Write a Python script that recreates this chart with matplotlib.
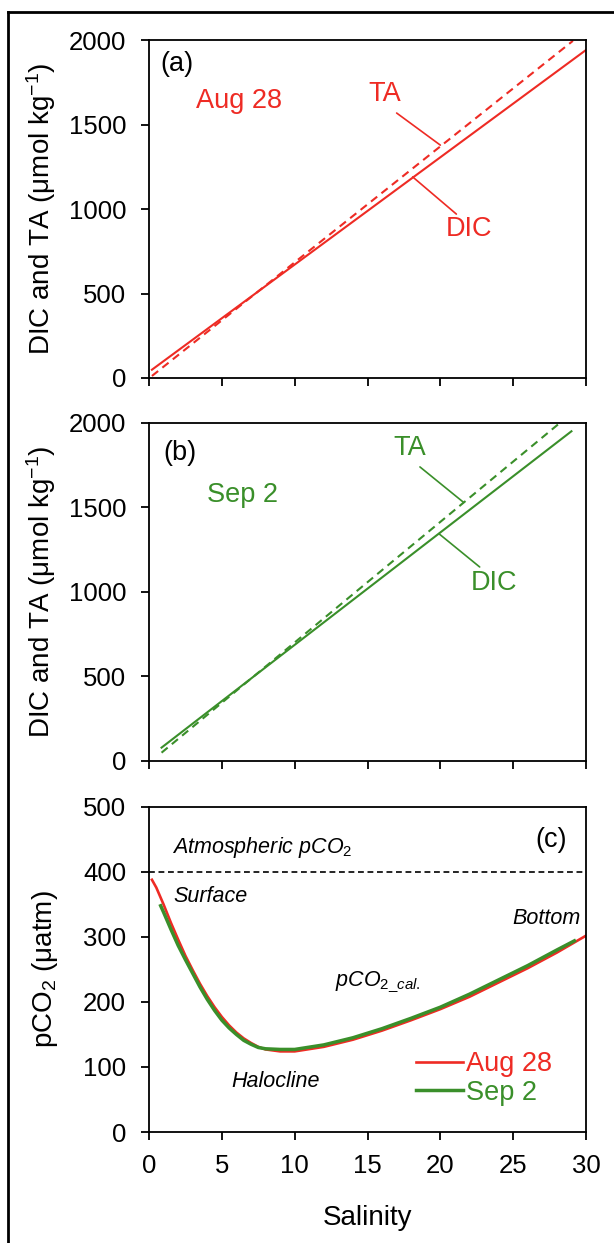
import matplotlib
matplotlib.use('Agg')
import matplotlib.pyplot as plt
from matplotlib.lines import Line2D

plt.rcParams['font.family'] = ['Liberation Sans', 'DejaVu Sans']
plt.rcParams['mathtext.fontset'] = 'custom'
plt.rcParams['mathtext.rm'] = 'Liberation Sans'
plt.rcParams['mathtext.it'] = 'Liberation Sans:italic'
plt.rcParams['mathtext.bf'] = 'Liberation Sans:bold'

RED = '#ee2b24'
GREEN = '#3a8f2a'

# (a) Aug 28 end-member mixing lines
sal_dic_a = [0.2, 30.0]
dic_a = [49, 1941]
sal_ta_a = [0.2, 29.1]
ta_a = [12, 1995]

# (b) Sep 2 end-member mixing lines
sal_dic_b = [0.86, 29.0]
dic_b = [79, 1951]
sal_ta_b = [0.86, 28.2]
ta_b = [49, 2000]

# (c) calculated pCO2 along salinity
sal_aug = [0.2, 0.5, 1.0, 1.5, 2.0, 2.5, 3.0, 3.5, 4.0, 4.5, 5.0, 5.5, 6.0, 6.5,
           7.0, 7.5, 8.0, 9.0, 10, 12, 14, 16, 18, 20, 22, 24, 26, 28, 30]
pco2_aug = [388, 376, 350, 322, 296, 271, 249, 228, 209, 192, 177, 164, 153, 144,
            137, 131, 127, 124, 124, 131, 142, 156, 172, 189, 208, 230, 252, 276, 302]
sal_sep = [0.8, 1.0, 1.5, 2.0, 2.5, 3.0, 3.5, 4.0, 4.5, 5.0, 5.5, 6.0, 6.5,
           7.0, 7.5, 8.0, 9.0, 10, 12, 14, 16, 18, 20, 22, 24, 26, 28, 29.2]
pco2_sep = [348, 338, 312, 287, 265, 244, 223, 204, 187, 172, 160, 150, 141,
            135, 130, 128, 127, 127, 134, 145, 159, 175, 192, 212, 234, 256, 280, 294]
atm_pco2 = 400

xticks = [0, 5, 10, 15, 20, 25, 30]
FS = 18.5    # tick labels
LFS = 20     # axis labels
AFS = 19.5   # coloured annotations / legend
IFS = 15.5   # italic notes in (c)

fig = plt.figure(figsize=(6.14, 12.43), dpi=100)
ax_a = fig.add_axes([0.2427, 0.6959, 0.7117, 0.2719])
ax_b = fig.add_axes([0.2427, 0.3878, 0.7117, 0.2719])
ax_c = fig.add_axes([0.2427, 0.0893, 0.7117, 0.2615])

# outer frame (left and top edges)
fig.add_artist(Line2D([0.013, 0.013], [0, 0.9903], transform=fig.transFigure,
                      color='black', lw=2))
fig.add_artist(Line2D([0.013, 1.0], [0.9903, 0.9903], transform=fig.transFigure,
                      color='black', lw=2))


def style_axis(ax, ymax, ystep, xlabels):
    ax.set_xlim(0, 30)
    ax.set_ylim(0, ymax)
    ax.set_xticks(xticks)
    ax.set_yticks(range(0, ymax + 1, ystep))
    if not xlabels:
        ax.set_xticklabels([])
    for sp in ax.spines.values():
        sp.set_linewidth(1.3)
    ax.tick_params(axis='both', direction='out', length=5.5, width=1.3,
                   labelsize=FS, top=False, right=False)
    ax.tick_params(axis='y', pad=11)
    ax.tick_params(axis='x', pad=10)


def leader(ax, start, end, color):
    ax.annotate('', xy=end, xytext=start,
                arrowprops=dict(arrowstyle='-', color=color, lw=1.2,
                                shrinkA=0, shrinkB=0))


# panel (a)
ax_a.plot(sal_dic_a, dic_a, color=RED, lw=1.5)
ax_a.plot(sal_ta_a, ta_a, color=RED, lw=1.5, dashes=(3.8, 2.6))
style_axis(ax_a, 2000, 500, False)
ax_a.set_ylabel('DIC and TA (μmol kg$^{-1}$)', fontsize=LFS, va='center')
ax_a.yaxis.set_label_coords(-0.247, 0.5)
ax_a.text(1.9, 1858, '(a)', fontsize=AFS, ha='center', va='center')
ax_a.text(6.2, 1640, 'Aug 28', fontsize=AFS, color=RED, ha='center', va='center')
ax_a.text(16.2, 1680, 'TA', fontsize=AFS, color=RED, ha='center', va='center')
ax_a.text(22.0, 880, 'DIC', fontsize=AFS, color=RED, ha='center', va='center')
leader(ax_a, (17.0, 1568), (20.0, 1378), RED)
leader(ax_a, (21.1, 970), (18.1, 1190), RED)

# panel (b)
ax_b.plot(sal_dic_b, dic_b, color=GREEN, lw=1.5)
ax_b.plot(sal_ta_b, ta_b, color=GREEN, lw=1.5, dashes=(3.8, 2.6))
style_axis(ax_b, 2000, 500, False)
ax_b.set_ylabel('DIC and TA (μmol kg$^{-1}$)', fontsize=LFS, va='center')
ax_b.yaxis.set_label_coords(-0.247, 0.5)
ax_b.text(2.1, 1822, '(b)', fontsize=AFS, ha='center', va='center')
ax_b.text(6.4, 1575, 'Sep 2', fontsize=AFS, color=GREEN, ha='center', va='center')
ax_b.text(17.9, 1850, 'TA', fontsize=AFS, color=GREEN, ha='center', va='center')
ax_b.text(23.7, 1055, 'DIC', fontsize=AFS, color=GREEN, ha='center', va='center')
leader(ax_b, (18.6, 1740), (21.6, 1530), GREEN)
leader(ax_b, (22.7, 1148), (19.9, 1345), GREEN)

# panel (c)
ax_c.axhline(atm_pco2, color='black', lw=1.2, dashes=(3.5, 2.2))
ax_c.plot(sal_aug, pco2_aug, color=RED, lw=1.9, label='Aug 28')
ax_c.plot(sal_sep, pco2_sep, color=GREEN, lw=2.5, label='Sep 2')
style_axis(ax_c, 500, 100, True)
ax_c.set_ylabel('pCO$_2$ (μatm)', fontsize=LFS, va='center')
ax_c.yaxis.set_label_coords(-0.238, 0.5)
ax_c.set_xlabel('Salinity', fontsize=LFS)
ax_c.xaxis.set_label_coords(0.5, -0.226)

ax_c.text(27.6, 449, '(c)', fontsize=AFS, ha='center', va='center')
ax_c.text(1.58, 437, 'Atmospheric pCO$_\\mathit{2}$', fontsize=IFS, style='italic',
          ha='left', va='center')
ax_c.text(1.65, 363, 'Surface', fontsize=IFS, style='italic', ha='left', va='center')
ax_c.text(29.6, 329, 'Bottom', fontsize=IFS, style='italic', ha='right', va='center')
ax_c.text(12.8, 230, r'$pCO_{2\_cal.}$', fontsize=IFS, ha='left', va='center')
ax_c.text(8.7, 78, 'Halocline', fontsize=IFS, style='italic', ha='center', va='center')

ax_c.legend(loc='center left', bbox_to_anchor=(0.611, 0.165), frameon=False,
            fontsize=AFS, handlelength=1.75, handletextpad=0.1, labelspacing=0.1,
            borderpad=0, borderaxespad=0, labelcolor='linecolor')

fig.savefig('out.png', dpi=100)
